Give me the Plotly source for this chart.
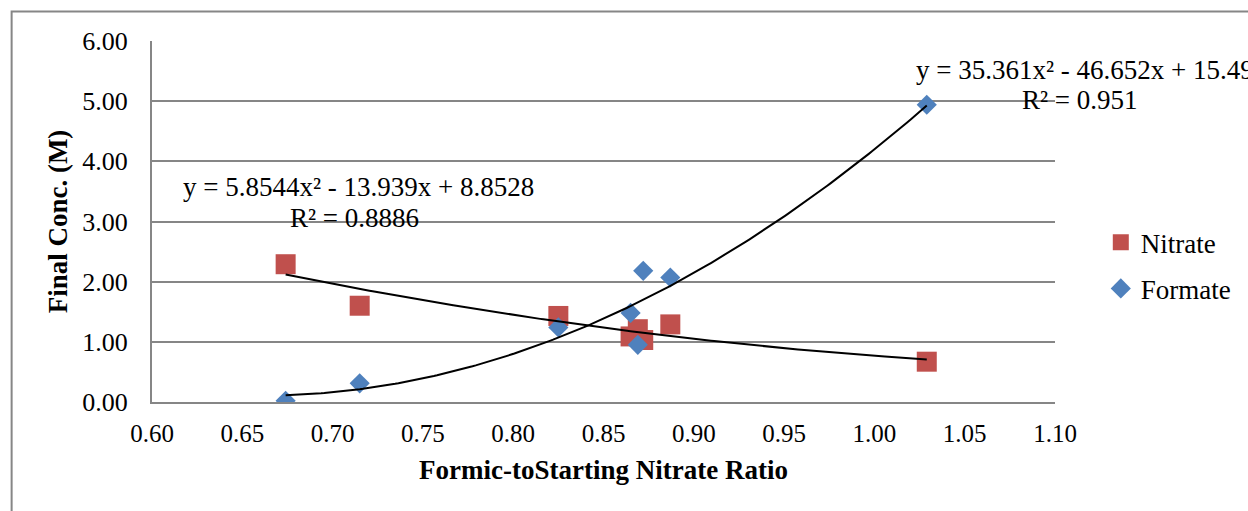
import numpy as np
import plotly.graph_objects as go

# ---- data ----
nitrate_x = [0.674, 0.715, 0.825, 0.865, 0.869, 0.872, 0.887, 1.029]
nitrate_y = [2.29, 1.60, 1.43, 1.09, 1.21, 1.03, 1.29, 0.67]
formate_x = [0.674, 0.715, 0.825, 0.865, 0.872, 0.887, 0.869, 1.029]
formate_y = [0.02, 0.31, 1.24, 1.48, 2.18, 2.07, 0.95, 4.94]

# polynomial trendline coefficients as printed on the chart (a, b, c)
nitrate_coef = [5.8544, -13.939, 8.8528]
formate_coef = [35.361, -46.652, 15.49]

nitrate_eq = "y = 5.8544x² - 13.939x + 8.8528"
nitrate_r2 = "R² = 0.8886"
formate_eq = "y = 35.361x² - 46.652x + 15.49"
formate_r2 = "R² = 0.951"

x_title = "Formic-toStarting Nitrate Ratio"
y_title = "Final Conc. (M)"

RED = "#C0504D"
BLUE = "#4F81BD"
GRID = "#868686"
FONT = "Liberation Serif, Times New Roman, serif"

W, H = 1248, 511
L, R, T, B = 152, 1059, 40.5, 402


def px(xp):
    return (xp - L) / (R - L)


def py(yp):
    return (B - yp) / (B - T)


def trend(xs, coef):
    xx = np.linspace(min(xs), max(xs), 200)
    return xx, np.polyval(coef, xx)


fig = go.Figure()
fig.add_trace(go.Scatter(x=nitrate_x, y=nitrate_y, mode="markers", name="Nitrate",
                         legendgroup="n",
                         marker=dict(symbol="square", size=20, color=RED)))
fig.add_trace(go.Scatter(x=formate_x, y=formate_y, mode="markers", name="Formate",
                         legendgroup="f",
                         marker=dict(symbol="diamond", size=15.5, color=BLUE)))
tx, ty = trend(nitrate_x, nitrate_coef)
fig.add_trace(go.Scatter(x=tx, y=ty, mode="lines", showlegend=False,
                         line=dict(color="black", width=2), hoverinfo="skip"))
tx, ty = trend(formate_x, formate_coef)
fig.add_trace(go.Scatter(x=tx, y=ty, mode="lines", showlegend=False,
                         line=dict(color="black", width=2), hoverinfo="skip"))

font_main = dict(family=FONT, size=27, color="black")

annos = [
    dict(text=nitrate_eq, x=px(181), y=py(187), xanchor="left"),
    dict(text=nitrate_r2, x=px(355), y=py(218), xanchor="center"),
    dict(text=formate_eq, x=px(917), y=py(70), xanchor="left"),
    dict(text=formate_r2, x=px(1084), y=py(100), xanchor="center"),
]
for a in annos:
    fig.add_annotation(xref="paper", yref="paper", showarrow=False,
                       yanchor="middle", font=font_main, **a)

# outer chart-area border (runs off right/bottom edges)
fig.add_shape(type="rect", xref="paper", yref="paper",
              x0=px(11), y0=py(600), x1=px(1400), y1=py(11),
              line=dict(color=GRID, width=2), layer="below")

fig.update_layout(
    width=W, height=H,
    margin=dict(l=L, r=W - R, t=T, b=H - B, pad=0),
    paper_bgcolor="white", plot_bgcolor="white",
    font=dict(family=FONT, size=25, color="black"),
    showlegend=True,
    legend=dict(x=px(1105), y=py(218), xanchor="left", yanchor="top",
                font=dict(family=FONT, size=27, color="black"),
                traceorder="grouped", tracegroupgap=8,
                bgcolor="rgba(0,0,0,0)"),
)
fig.update_xaxes(range=[0.6, 1.1], dtick=0.05, tick0=0.6, tickformat=".2f",
                 showgrid=False, zeroline=False,
                 showline=True, linecolor=GRID, linewidth=2,
                 ticks="", ticklabelstandoff=8,
                 tickfont=dict(family=FONT, size=25),
                 title=dict(text="<b>" + x_title + "</b>", standoff=14,
                            font=dict(family=FONT, size=27)))
fig.update_yaxes(range=[0, 6], dtick=1, tickformat=".2f",
                 showgrid=True, gridcolor=GRID, gridwidth=2,
                 zeroline=False, showline=True, linecolor=GRID, linewidth=2,
                 ticks="", ticklabelstandoff=17,
                 tickfont=dict(family=FONT, size=26),
                 title=dict(text="<b>" + y_title + "</b>", standoff=7,
                            font=dict(family=FONT, size=27)))

fig.write_html("out.html")
